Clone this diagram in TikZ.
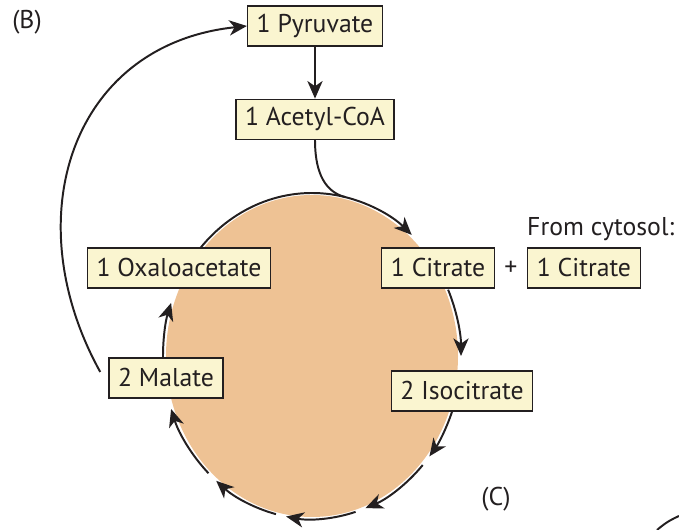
\documentclass[tikz,border=0pt]{standalone}
\usepackage{fontspec}
\setmainfont{PT Sans}
\usetikzlibrary{positioning,calc,arrows.meta}
\definecolor{boxfill}{RGB}{250,245,208}
\definecolor{cycfill}{RGB}{238,194,148}
\definecolor{inkgray}{RGB}{35,31,32}
\tikzstyle{metabox}=[draw=inkgray,line width=0.9pt,fill=boxfill,text=inkgray,inner xsep=0.23cm,minimum height=1.0cm,font=\fontsize{18.3}{21}\selectfont]
\tikzstyle{cyclearrow}=[draw=inkgray,line width=1.4pt,-{Stealth[length=0.44cm,width=0.38cm,inset=0.13cm]}]
\tikzstyle{plainlabel}=[text=inkgray,font=\fontsize{18.3}{21}\selectfont]
\def\cyclearc(#1:#2)% Syntax: (initial angle:final angle), runs clockwise round the ring
    { \draw[cyclearrow] ($(cyc)+({149*cos(#1)},{163*sin(#1)})$) arc[start angle=#1,end angle=#2,x radius=149,y radius=163]; }

\begin{document}
\begin{tikzpicture}[x=0.025cm,y=0.025cm]
	\useasboundingbox (0,0) rectangle (679,530);
	\coordinate (cyc) at (312,174);
	\fill[cycfill] (cyc) ellipse [x radius=146,y radius=161];
	% ring of arrows, clockwise from the top
	\cyclearc(139:48)
	\cyclearc(24:0)
	\foreach \a/\b in {-20/-38,-42/-69,-73/-100,-104/-130,-134/-161} {
		\cyclearc(\a:\b)
	}
	\cyclearc(-179:-199)
	\coordinate (join) at ($(cyc)+({149*cos(77)},{163*sin(77)})$);

	\node[metabox] (pyr) at (315,504) {1 Pyruvate};
	\node[metabox,below=1.3cm of pyr] (acetyl) {1 Acetyl-CoA};
	\node[metabox] (oxalo) at (179,262) {1 Oxaloacetate};
	\node[metabox] (malate) at (166,152) {2 Malate};
	\node[metabox] (citrate) at (438,262) {1 Citrate};
	\node[metabox,right=0.8cm of citrate] (cytcitrate) {1 Citrate};
	\node[plainlabel] (plus) at ($(citrate.east)!0.5!(cytcitrate.west)$) {+};
	\node[plainlabel,anchor=base west,inner sep=0] (cytosol) at ($(cytcitrate.north west)+(0,12)$) {From cytosol:};
	\node[metabox] (isocit) at (462,139) {2 Isocitrate};
	\node[plainlabel] (lblB) at (27,508) {(B)};
	\node[plainlabel] (lblC) at (496,31) {(C)};

	\draw[cyclearrow] (pyr) -- (acetyl);
	\draw[draw=inkgray,line width=1.4pt] (acetyl.south) to[out=-90,in=166] (join);
	\draw[cyclearrow] ([shift={(-8,6)}]malate.west) to[out=119,in=186,looseness=1.2] (pyr.west);
	% edge of the next panel
	\draw[draw=inkgray,line width=1.4pt] (657,0) to[bend left=8] (679,14);
\end{tikzpicture}
\end{document}
